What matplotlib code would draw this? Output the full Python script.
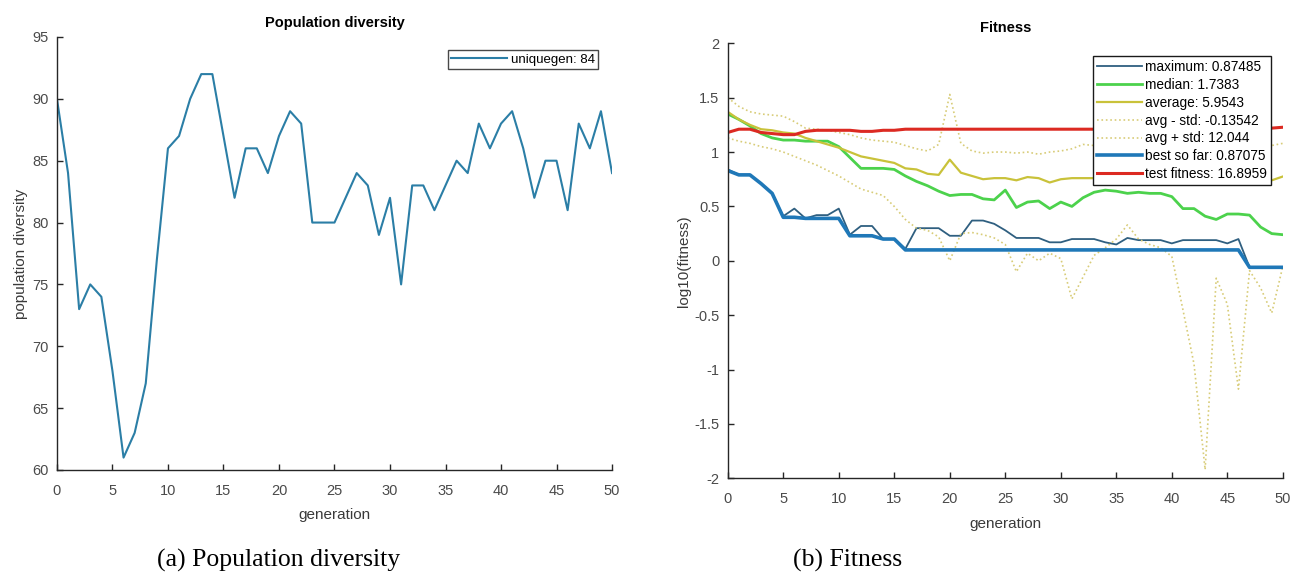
import numpy as np
import matplotlib
matplotlib.use("Agg")
import matplotlib.pyplot as plt

plt.rcParams['font.family'] = ['Liberation Sans', 'DejaVu Sans']
plt.rcParams['axes.unicode_minus'] = False

gen = np.arange(0, 51)

# population diversity (left)
uniquegen = [90, 84, 73, 75, 74, 68, 61, 63, 67, 77, 86, 87, 90, 92, 92, 87, 82,
             86, 86, 84, 87, 89, 88, 80, 80, 80, 82, 84, 83, 79, 82, 75, 83, 83,
             81, 83, 85, 84, 88, 86, 88, 89, 86, 82, 85, 85, 81, 88, 86, 89, 84]

# log10(fitness) series (right)
maximum = [0.84, 0.79, 0.79, 0.71, 0.62, 0.41, 0.48, 0.39, 0.42, 0.42, 0.48,
           0.24, 0.32, 0.32, 0.20, 0.20, 0.11, 0.30, 0.30, 0.30, 0.23, 0.23,
           0.37, 0.37, 0.34, 0.28, 0.21, 0.21, 0.21, 0.17, 0.17, 0.20, 0.20,
           0.20, 0.17, 0.15, 0.21, 0.19, 0.19, 0.19, 0.16, 0.19, 0.19, 0.19,
           0.19, 0.16, 0.20, -0.06, -0.06, -0.06, -0.058]
median = [1.35, 1.30, 1.24, 1.17, 1.13, 1.11, 1.11, 1.10, 1.10, 1.10, 1.05,
          0.95, 0.85, 0.85, 0.85, 0.84, 0.78, 0.73, 0.69, 0.64, 0.60, 0.61,
          0.61, 0.57, 0.56, 0.65, 0.49, 0.54, 0.55, 0.48, 0.54, 0.50, 0.58,
          0.63, 0.65, 0.64, 0.62, 0.63, 0.62, 0.62, 0.59, 0.48, 0.48, 0.41,
          0.38, 0.43, 0.43, 0.42, 0.31, 0.25, 0.24]
average = [1.37, 1.30, 1.25, 1.21, 1.20, 1.18, 1.17, 1.13, 1.10, 1.07, 1.04,
           1.00, 0.96, 0.94, 0.92, 0.90, 0.85, 0.84, 0.80, 0.79, 0.93, 0.81,
           0.78, 0.75, 0.76, 0.76, 0.74, 0.77, 0.76, 0.72, 0.75, 0.76, 0.76,
           0.76, 0.75, 0.76, 0.76, 0.75, 0.75, 0.76, 0.76, 0.75, 0.75, 0.74,
           0.74, 0.75, 0.75, 0.74, 0.74, 0.74, 0.775]
avg_minus_std = [1.13, 1.10, 1.08, 1.05, 1.03, 1.00, 0.96, 0.92, 0.88, 0.83, 0.78,
                 0.72, 0.66, 0.63, 0.60, 0.50, 0.38, 0.30, 0.28, 0.22, 0.00, 0.25,
                 0.26, 0.24, 0.21, 0.15, -0.10, 0.07, 0.00, 0.07, 0.02, -0.35, -0.15,
                 0.05, 0.12, 0.20, 0.33, 0.20, 0.15, 0.12, 0.04, -0.45, -0.95, -1.92,
                 -0.16, -0.40, -1.18, -0.09, -0.25, -0.48, -0.05]
avg_plus_std = [1.50, 1.42, 1.37, 1.35, 1.34, 1.33, 1.28, 1.22, 1.21, 1.20, 1.18,
                1.16, 1.13, 1.11, 1.10, 1.09, 1.06, 1.03, 1.01, 1.07, 1.53, 1.08,
                1.01, 0.99, 1.00, 1.00, 0.99, 1.00, 0.98, 1.00, 1.01, 1.03, 1.07,
                1.06, 1.05, 1.05, 1.06, 1.05, 1.05, 1.06, 1.05, 1.05, 1.04, 1.05,
                1.05, 1.06, 1.05, 1.05, 1.05, 1.06, 1.08]
best_so_far = [0.83, 0.79, 0.79, 0.71, 0.62, 0.40, 0.40, 0.39, 0.39, 0.39, 0.39,
               0.23, 0.23, 0.23, 0.20, 0.20] + [0.10] * 31 + [-0.06] * 4
test_fitness = [1.18, 1.21, 1.21, 1.18, 1.17, 1.16, 1.16, 1.19, 1.20, 1.20, 1.20,
                1.20, 1.19, 1.19, 1.20, 1.20] + [1.21] * 20 + [1.22] * 14 + [1.228]

labels = ["maximum: 0.87485", "median: 1.7383", "average: 5.9543",
          "avg - std: -0.13542", "avg + std: 12.044",
          "best so far: 0.87075", "test fitness: 16.8959"]

tick_col = "#4a4a4a"


def style_axes(ax):
    ax.spines['top'].set_visible(False)
    ax.spines['right'].set_visible(False)
    for s in ('left', 'bottom'):
        ax.spines[s].set_color("#262626")
        ax.spines[s].set_linewidth(1.0)
    ax.tick_params(direction='in', length=4, width=1, colors="#262626",
                   labelcolor=tick_col, labelsize=10.5, pad=6)
    ax.tick_params(axis='x', pad=10)


fig = plt.figure(figsize=(13, 5.78), dpi=100)

# (a) population diversity
ax1 = fig.add_axes([0.0438, 0.1869, 0.4270, 0.7491])
ax1.plot(gen, uniquegen, color="#2b7ea6", lw=1.5, label="uniquegen: 84")
ax1.set_xlim(0, 50)
ax1.set_ylim(60, 95)
ax1.set_xticks(range(0, 51, 5))
ax1.set_yticks(range(60, 96, 5))
style_axes(ax1)
ax1.set_xlabel("generation", fontsize=11, color="#3a3a3a", labelpad=7)
ax1.set_ylabel("population diversity", fontsize=11, color="#3a3a3a", labelpad=3)
ax1.set_title("Population diversity", fontsize=10.5, fontweight='bold', pad=7)
leg1 = ax1.legend(loc='upper right', bbox_to_anchor=(0.9747, 0.969),
                  fontsize=9.5, frameon=True, fancybox=False, handlelength=4.2,
                  handletextpad=0.3, borderpad=0.25, borderaxespad=0)
leg1.get_frame().set_edgecolor("#1a1a1a")
leg1.get_frame().set_linewidth(1.0)

# (b) fitness
ax2 = fig.add_axes([0.5598, 0.1725, 0.4270, 0.7526])
ax2.plot(gen, maximum, color="#2f5f80", lw=1.3)
ax2.plot(gen, median, color="#4cd24c", lw=2.0)
ax2.plot(gen, average, color="#c9c23a", lw=1.6)
ax2.plot(gen, avg_minus_std, color="#d8cc78", lw=1.2, ls=':')
ax2.plot(gen, avg_plus_std, color="#d8cc78", lw=1.2, ls=':')
ax2.plot(gen, best_so_far, color="#1f78b8", lw=2.6)
ax2.plot(gen, test_fitness, color="#dc2a22", lw=2.2)
ax2.set_xlim(0, 50)
ax2.set_ylim(-2, 2)
ax2.set_xticks(range(0, 51, 5))
ax2.set_yticks(np.arange(-2, 2.01, 0.5))
ax2.set_yticklabels(["-2", "-1.5", "-1", "-0.5", "0", "0.5", "1", "1.5", "2"])
style_axes(ax2)
ax2.set_xlabel("generation", fontsize=11, color="#3a3a3a", labelpad=8)
ax2.set_ylabel("log10(fitness)", fontsize=11, color="#3a3a3a", labelpad=2)
ax2.set_title("Fitness", fontsize=10.5, fontweight='bold', pad=8)
leg2 = ax2.legend(labels, loc='upper right', bbox_to_anchor=(0.9777, 0.9031),
                  bbox_transform=fig.transFigure, fontsize=9.8, frameon=True,
                  fancybox=False, framealpha=1, handlelength=3.3,
                  handletextpad=0.2, borderpad=0.3, labelspacing=0.28,
                  borderaxespad=0)
leg2.get_frame().set_edgecolor("#1a1a1a")
leg2.get_frame().set_linewidth(1.0)

# captions
fig.text(0.214, 0.031, "(a) Population diversity", ha='center', va='center',
         fontsize=18.5, family='Liberation Serif')
fig.text(0.652, 0.031, "(b) Fitness", ha='center', va='center',
         fontsize=18.5, family='Liberation Serif')

fig.savefig("out.png", dpi=100)
